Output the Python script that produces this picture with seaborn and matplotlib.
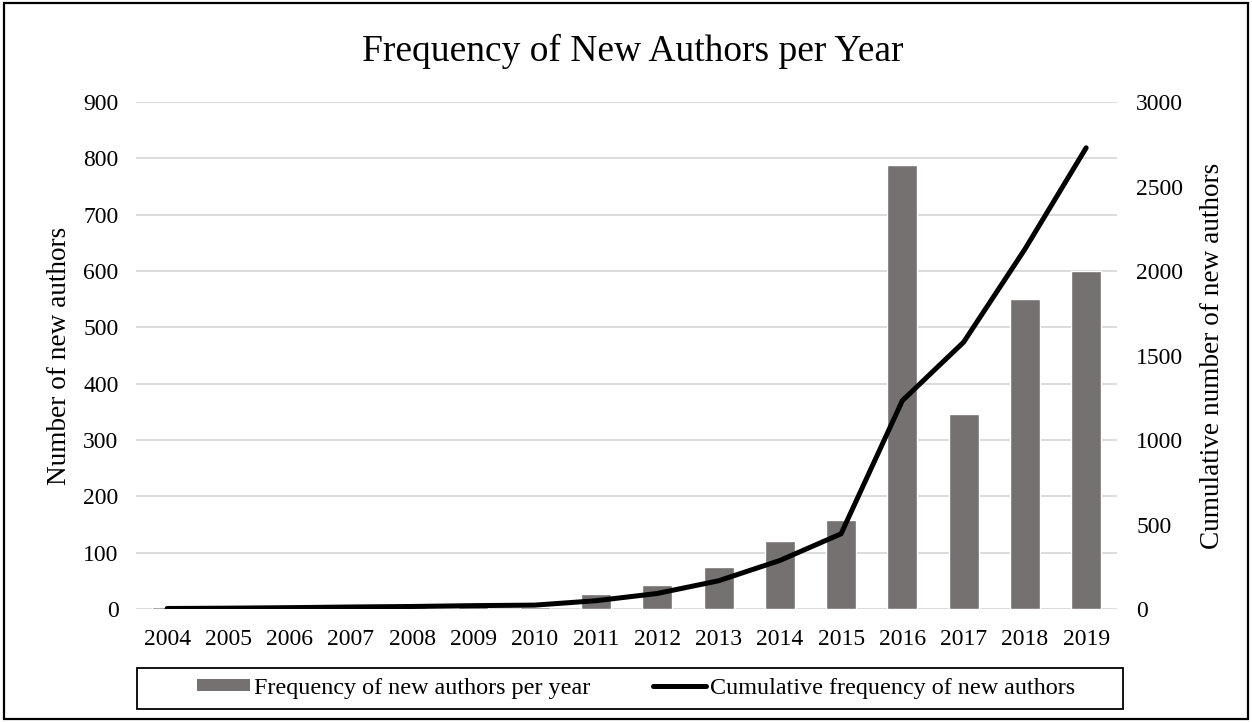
import matplotlib
matplotlib.use("Agg")
import matplotlib.pyplot as plt
import matplotlib.patches as mpatches
import matplotlib.lines as mlines
import seaborn as sns
import pandas as pd
import numpy as np

years = [2004, 2005, 2006, 2007, 2008, 2009, 2010, 2011,
         2012, 2013, 2014, 2015, 2016, 2017, 2018, 2019]
new_authors = [3, 2, 3, 4, 3, 5, 3, 26, 43, 75, 120, 158, 788, 346, 550, 600]
cumulative_authors = [3, 5, 8, 12, 15, 20, 23, 49, 92, 167, 287, 445,
                      1233, 1579, 2129, 2729]

bar_label = "Frequency of new authors per year"
line_label = "Cumulative frequency of new authors"

df = pd.DataFrame({"year": years, "new": new_authors, "cum": cumulative_authors})

sns.set_theme(style="white")
plt.rcParams["font.family"] = ["Liberation Serif", "DejaVu Serif"]
plt.rcParams["text.color"] = "black"
plt.rcParams["axes.labelcolor"] = "black"

BAR_COLOR = "#767171"
GRID_COLOR = "#D9D9D9"
TICK_SIZE = 17
LABEL_SIZE = 19.6

fig = plt.figure(figsize=(12.52, 7.22), dpi=100)
ax = fig.add_axes([0.109, 0.1565, 0.783, 0.7022])

sns.barplot(data=df, x="year", y="new", native_scale=True, color=BAR_COLOR,
            width=0.49, saturation=1, ax=ax, zorder=2)
ax.set_ylim(0, 900)
ax.set_yticks(np.arange(0, 901, 100))
ax.set_xlim(years[0] - 0.5, years[-1] + 0.5)
ax.set_xticks(years)
ax.set_xticklabels([str(y) for y in years])
ax.grid(axis="y", color=GRID_COLOR, linewidth=1.3, zorder=0)
ax.set_axisbelow(True)
for s in ax.spines.values():
    s.set_visible(False)
ax.tick_params(axis="both", length=0, labelsize=TICK_SIZE, colors="black")
ax.tick_params(axis="y", pad=13)
ax.tick_params(axis="x", pad=14.5)
ax.set_xlabel("")
ax.set_ylabel("Number of new authors", fontsize=LABEL_SIZE, labelpad=8)

ax2 = ax.twinx()
sns.lineplot(data=df, x="year", y="cum", color="black", linewidth=3.6,
             ax=ax2, zorder=3)
ax2.set_ylim(0, 3000)
ax2.set_yticks(np.arange(0, 3001, 500))
for s in ax2.spines.values():
    s.set_visible(False)
ax2.tick_params(axis="y", length=0, labelsize=TICK_SIZE, pad=14, colors="black")
ax2.set_ylabel("Cumulative number of new authors", fontsize=LABEL_SIZE,
               labelpad=12)
ax2.set_xlim(years[0] - 0.5, years[-1] + 0.5)

fig.text(0.5055, 0.929, "Frequency of New Authors per Year", fontsize=27,
         ha="center", va="center")

handles = [mpatches.Patch(facecolor=BAR_COLOR, edgecolor="none"),
           mlines.Line2D([], [], color="black", linewidth=3.6,
                         solid_capstyle="round")]
leg = fig.legend(handles, [bar_label, line_label], loc="center",
                 bbox_to_anchor=(0.508, 0.047), ncol=2, fontsize=17.4,
                 frameon=False, handlelength=2.2, handleheight=0.42,
                 handletextpad=0.15, columnspacing=2.6, borderpad=0.2)

# frame around the legend row
fig.patches.append(mpatches.Rectangle((0.1094, 0.018), 0.7875, 0.0568,
                                      transform=fig.transFigure, fill=False,
                                      edgecolor="black", linewidth=1.3))

# outer border around the whole figure
fig.patches.append(mpatches.Rectangle((0.003, 0.004), 0.994, 0.992,
                                      transform=fig.transFigure, fill=False,
                                      edgecolor="black", linewidth=1.6))

fig.savefig("out.png", dpi=100)
